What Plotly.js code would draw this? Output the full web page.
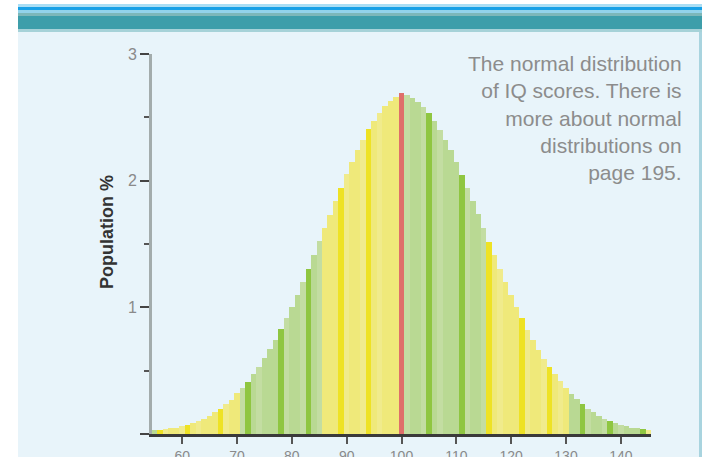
<!DOCTYPE html>
<html>
<head>
<meta charset="utf-8">
<script src="https://cdn.plot.ly/plotly-3.0.1.min.js"></script>
<style>
html,body{margin:0;padding:0;background:#fff;}
#chart{width:702px;height:457px;}
</style>
</head>
<body>
<div id="chart"></div>
<script>
// IQ scores (bar centres)
const iqScores = [55,56,57,58,59,60,61,62,63,64,65,66,67,68,69,70,71,72,73,74,75,76,77,78,79,80,81,82,83,84,85,86,87,88,89,90,91,92,93,94,95,96,97,98,99,100,101,102,103,104,105,106,107,108,109,110,111,112,113,114,115,116,117,118,119,120,121,122,123,124,125,126,127,128,129,130,131,132,133,134,135,136,137,138,139,140,141,142,143,144,145];
// Population % for each IQ score
const populationPct = [0.03,0.035,0.04,0.045,0.05,0.06,0.07,0.085,0.10,0.12,0.145,0.17,0.20,0.235,0.27,0.32,0.36,0.41,0.47,0.53,0.60,0.67,0.745,0.83,0.915,1.005,1.10,1.20,1.30,1.41,1.52,1.625,1.73,1.84,1.945,2.05,2.145,2.24,2.325,2.405,2.475,2.535,2.59,2.63,2.66,2.69,2.675,2.655,2.625,2.585,2.535,2.475,2.40,2.325,2.24,2.145,2.045,1.945,1.84,1.735,1.625,1.515,1.41,1.305,1.20,1.10,1.005,0.915,0.825,0.745,0.665,0.595,0.53,0.47,0.415,0.36,0.315,0.275,0.235,0.20,0.17,0.145,0.12,0.10,0.085,0.07,0.06,0.05,0.045,0.04,0.035];
// Colour band of each bar: G green, Y yellow, R red (mean)
const bandOf = ["G","Y","Y","Y","Y","Y","Y","Y","Y","Y","Y","Y","Y","Y","Y","Y","G","G","G","G","G","G","G","G","G","G","G","G","G","G","G","Y","Y","Y","Y","Y","Y","Y","Y","Y","Y","Y","Y","Y","Y","R","G","G","G","G","G","G","G","G","G","G","G","G","G","G","G","Y","Y","Y","Y","Y","Y","Y","Y","Y","Y","Y","Y","Y","Y","Y","G","G","G","G","G","G","G","G","G","G","G","G","G","G","Y"];
const xTicks = [60,70,80,90,100,110,120,130,140];
const yTicks = [0,1,2,3];
const yTickText = ["","1","2","3"];
const yTitle = "Population %";
const noteLines = ["The normal distribution","of IQ scores. There is","more about normal","distributions on","page 195."];

const palette = {
  Y: ["#eee224","#efe97a","#f0eb8c"],
  G: ["#8fc641","#b9d993","#c3dda2"],
  R: ["#df6f6a","#df6f6a","#df6f6a"]
};
const shadePattern = [1,0,2,1,1,2,0,1,2,1,1];
const barColors = bandOf.map((b,i)=>palette[b][shadePattern[i%shadePattern.length]]);

// pixel -> paper helpers for decoration
const L=152, R=651, T=54, B=434;
const px = v => (v-L)/(R-L);
const py = v => (B-v)/(B-T);
function band(y0,y1,color,x0=18,x1=702){
  return {type:"rect",xref:"paper",yref:"paper",x0:px(x0),x1:px(x1),y0:py(y1),y1:py(y0),
          fillcolor:color,line:{width:0},layer:"below"};
}
const shapes = [
  band(32,457,"#e8f4fa",18,699),
  band(29,457,"#a9d4df",699,702),
  band(4,7,"#aadef4"),
  band(7,10,"#17a0e6"),
  band(10,13,"#92d3ea"),
  band(13,16,"#7cb7b9"),
  band(16,29,"#3d9eaa"),
  band(29,32,"#a6d2d8")
];

const trace = {
  type:"bar", x:iqScores, y:populationPct,
  marker:{color:barColors, line:{width:0}},
  width:1, hoverinfo:"skip"
};

const layout = {
  width:702, height:457,
  margin:{l:L, r:702-R, t:T, b:457-B},
  paper_bgcolor:"#ffffff", plot_bgcolor:"rgba(0,0,0,0)",
  showlegend:false, bargap:0,
  font:{family:"Liberation Sans, Arial, sans-serif"},
  xaxis:{
    range:[54.5,145.5], tickvals:xTicks, showgrid:false, zeroline:false,
    showline:true, linecolor:"#3a3a3a", linewidth:3,
    ticks:"outside", ticklen:7, tickwidth:2, tickcolor:"#555",
    tickfont:{size:14,color:"#8a8a8a"}, fixedrange:true
  },
  yaxis:{
    range:[0,3], tickvals:yTicks, ticktext:yTickText, showgrid:false, zeroline:false,
    showline:true, linecolor:"#a3acac", linewidth:3,
    ticks:"outside", ticklen:9, tickwidth:2, tickcolor:"#444",
    tickfont:{size:16,color:"#8a8a8a"},
    minor:{tickvals:[0.5,1.5,2.5], ticks:"outside", ticklen:5, tickwidth:2, tickcolor:"#555"},
    fixedrange:true
  },
  shapes:shapes,
  annotations:[{
    xref:"paper", yref:"paper", x:px(684), y:py(50), xanchor:"right", yanchor:"top",
    align:"right", showarrow:false, text:noteLines.join("<br>"),
    font:{size:21,color:"#8c8c8c"}
  },{
    xref:"paper", yref:"paper", x:px(107), y:py(232), xanchor:"center", yanchor:"middle",
    textangle:-90, showarrow:false, text:"<b>"+yTitle+"</b>",
    font:{size:18,color:"#333"}
  }]
};

Plotly.newPlot("chart",[trace],layout,{staticPlot:true,displayModeBar:false});
</script>
</body>
</html>
